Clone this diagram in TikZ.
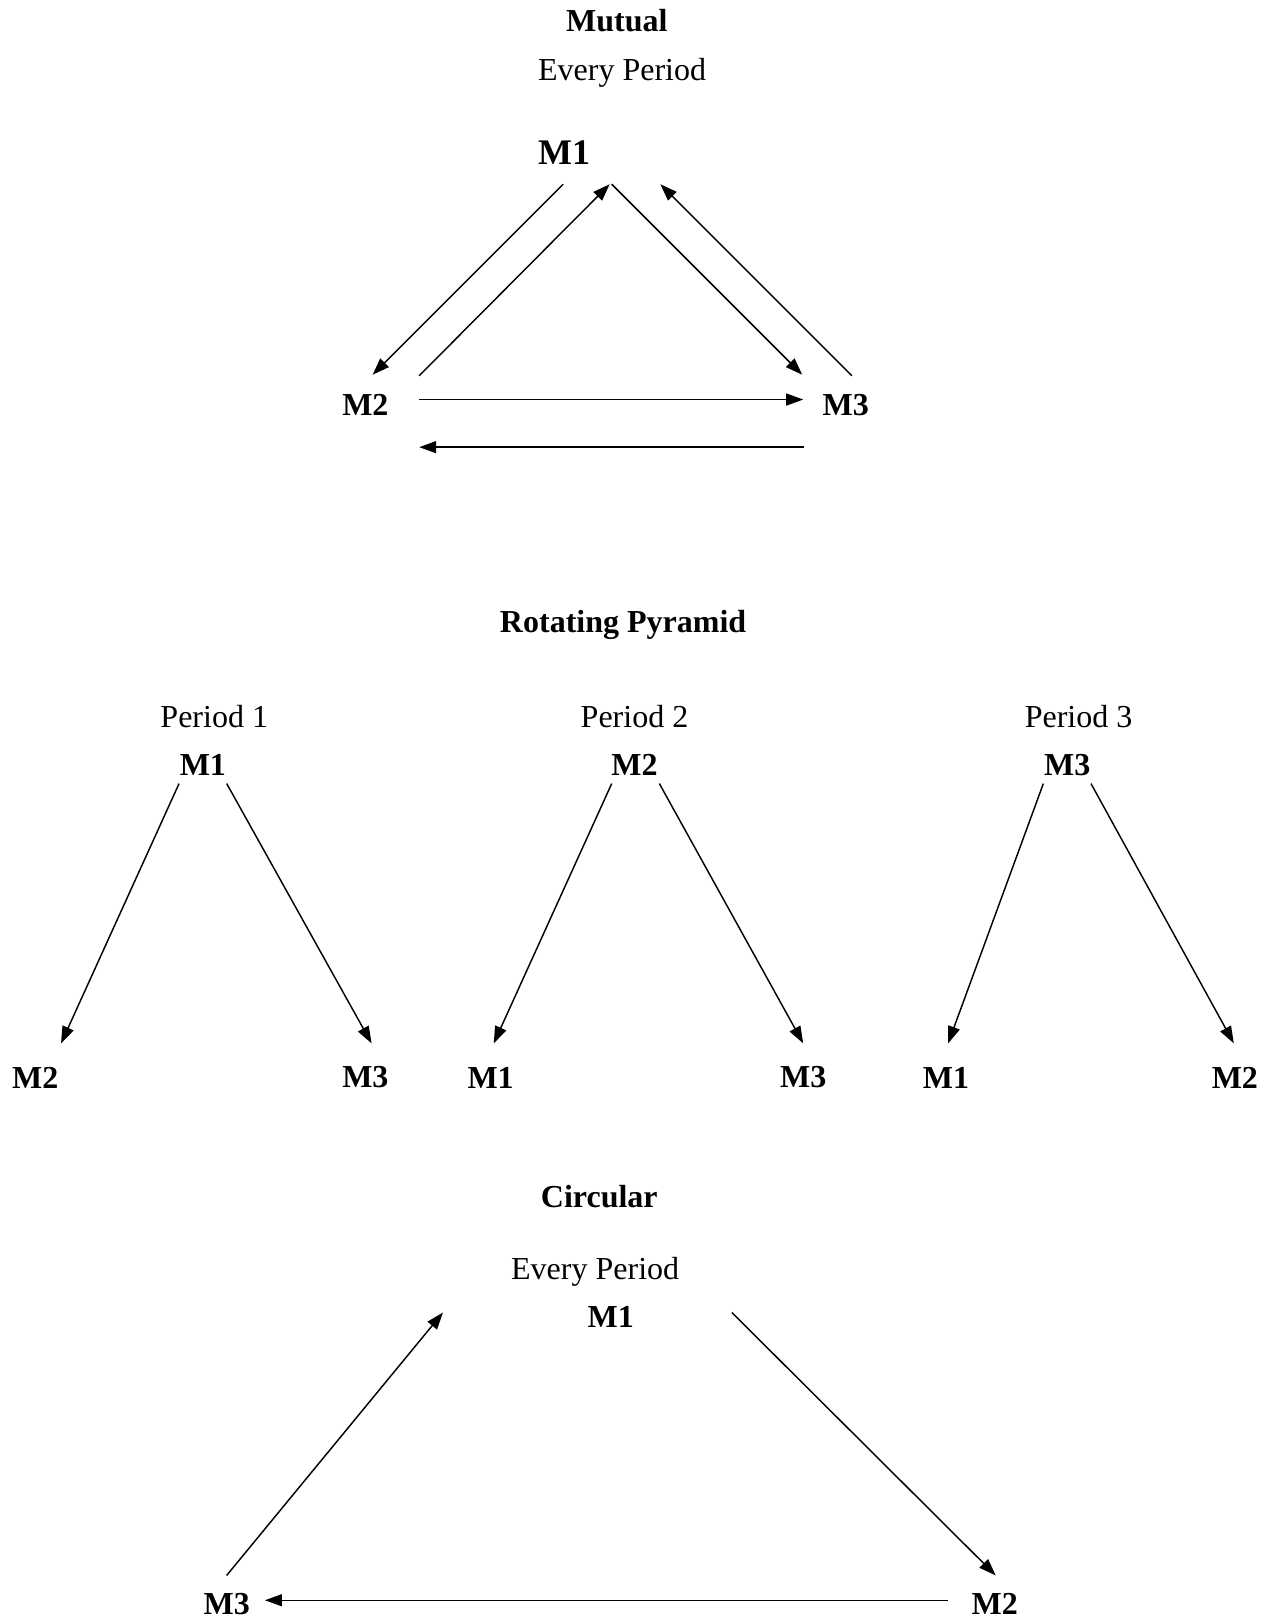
\documentclass[tikz,border=0pt]{standalone}
\usepackage{fontspec}
\setmainfont{Liberation Serif}
\usepackage{tikz}
\usetikzlibrary{arrows.meta,positioning}
\tikzstyle{arrow} = [
    line width=1.45pt,
    -{Triangle[length=17pt,width=12pt]},
    draw=black
]
\tikzstyle{heading} = [
    inner sep=0pt,
    font=\fontsize{32}{38}\selectfont\bfseries
]
\tikzstyle{plain} = [
    inner sep=0pt,
    font=\fontsize{32}{38}\selectfont
]
\tikzstyle{mnode} = [
    inner sep=0pt,
    font=\fontsize{32}{38}\selectfont\bfseries
]

\begin{document}
\begin{tikzpicture}[x=1.0349pt,y=-1.0349pt]
        \useasboundingbox (0,0) rectangle (1233,1568);

        % Mutual
        \node[heading] (mutual) at (596,20) {Mutual};
        \node[plain] (mutualper) at (601,70) {Every Period};
        \node[mnode,font=\fontsize{36}{42}\selectfont\bfseries] (mA1) at (545,147) {M1};
        \node[mnode] (mA2) at (353,391) {M2};
        \node[mnode] (mA3) at (817,391) {M3};

        \draw[arrow] ([shift={(-1,31)}]mA1.center) -- ([shift={(7,-29)}]mA2.center);
        \draw[arrow] ([shift={(52,-28)}]mA2.center) -- ([shift={(44,31)}]mA1.center);
        \draw[arrow] ([shift={(46,31)}]mA1.center) -- ([shift={(-42,-29)}]mA3.center);
        \draw[arrow] ([shift={(6,-28)}]mA3.center) -- ([shift={(93,31)}]mA1.center);
        \draw[arrow] ([shift={(52,-5)}]mA2.center) -- ([shift={(-41,-5)}]mA3.center);
        \draw[arrow] ([shift={(-40,41)}]mA3.center) -- ([shift={(52,41)}]mA2.center);

        % Rotating pyramid
        \node[heading] (pyramid) at (602,604) {Rotating Pyramid};
        \foreach \n/\px/\x/\top/\left/\lx/\right/\rx in {1/207/196/M1/M2/34/M3/353,
                                                       2/613/613/M2/M1/474/M3/776,
                                                       3/1042/1031/M3/M1/914/M2/1193} {
            \node[plain] (per\n) at (\px,692) {Period \n};
            \node[mnode] (top\n) at (\x,739) {\top};
            \node[mnode] (left\n) at (\lx,1041) {\left};
            \node[mnode] (right\n) at (\rx,1041) {\right};
        }
        \draw[arrow] ([shift={(-23,18)}]top1.center) -- ([shift={(25,-33)}]left1.center);
        \draw[arrow] ([shift={(23,18)}]top1.center) -- ([shift={(6,-33)}]right1.center);
        \draw[arrow] ([shift={(-22,18)}]top2.center) -- ([shift={(3,-33)}]left2.center);
        \draw[arrow] ([shift={(24,18)}]top2.center) -- ([shift={(0,-33)}]right2.center);
        \draw[arrow] ([shift={(-23,18)}]top3.center) -- ([shift={(2,-33)}]left3.center);
        \draw[arrow] ([shift={(23,18)}]top3.center) -- ([shift={(-1,-33)}]right3.center);

        % Circular
        \node[heading] (circular) at (579,1156) {Circular};
        \node[plain] (circper) at (575,1229) {Every Period};
        \node[mnode] (mC1) at (590,1272) {M1};
        \node[mnode] (mC2) at (961,1550) {M2};
        \node[mnode] (mC3) at (219,1550) {M3};

        \draw[arrow] ([shift={(0,-28)}]mC3.center) -- ([shift={(-162,-4)}]mC1.center);
        \draw[arrow] ([shift={(117,-4)}]mC1.center) -- ([shift={(1,-28)}]mC2.center);
        \draw[arrow] ([shift={(-45,-4)}]mC2.center) -- ([shift={(37,-4)}]mC3.center);
    \end{tikzpicture}
\end{document}
